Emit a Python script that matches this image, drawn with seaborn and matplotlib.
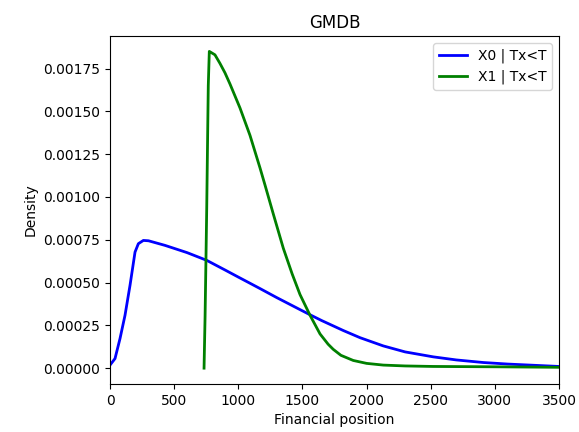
import matplotlib
matplotlib.use("Agg")
import matplotlib.pyplot as plt
import seaborn as sns
import pandas as pd

# Blue series: X0 | Tx<T  (density in units of 1e-4)
x0_pos = [0, 39, 78, 117, 156, 195, 221, 260, 300, 429, 600, 753, 900, 1000, 1091,
          1169, 1300, 1481, 1559, 1650, 1818, 1949, 2130, 2300, 2520, 2700, 2910,
          3100, 3299, 3500]
x0_dens = [0.18, 0.56, 1.73, 3.09, 4.84, 6.78, 7.27, 7.46, 7.44, 7.17, 6.75, 6.3, 5.72,
           5.32, 4.96, 4.65, 4.12, 3.42, 3.12, 2.78, 2.2, 1.78, 1.3, 0.95, 0.66, 0.48,
           0.33, 0.24, 0.17, 0.1]

# Green series: X1 | Tx<T  (density in units of 1e-4)
x1_pos = [733, 741, 748, 754, 760, 766, 774, 818, 857, 896, 935, 1013, 1091, 1169,
          1208, 1273, 1312, 1351, 1420, 1481, 1559, 1637, 1700, 1740, 1800, 1896,
          2000, 2130, 2300, 2517, 3000, 3500]
x1_dens = [0.0, 3.0, 6.4, 9.4, 13.0, 16.5, 18.5, 18.3, 17.8, 17.25, 16.6, 15.2, 13.6,
           11.7, 10.7, 9.0, 8.0, 7.0, 5.5, 4.3, 3.09, 2.0, 1.4, 1.1, 0.75, 0.45,
           0.28, 0.18, 0.13, 0.1, 0.08, 0.05]

labels = ["X0 | Tx<T", "X1 | Tx<T"]
colors = ["blue", "green"]
yticks = [0, 0.00025, 0.0005, 0.00075, 0.001, 0.00125, 0.0015, 0.00175]

df0 = pd.DataFrame({"x": x0_pos, "y": [v * 1e-4 for v in x0_dens]})
df1 = pd.DataFrame({"x": x1_pos, "y": [v * 1e-4 for v in x1_dens]})

fig, ax = plt.subplots(figsize=(5.79, 4.32), dpi=100)
fig.subplots_adjust(left=0.19, right=0.9655, top=0.9167, bottom=0.1111)

sns.lineplot(data=df0, x="x", y="y", ax=ax, color=colors[0], label=labels[0],
             linewidth=2, errorbar=None)
sns.lineplot(data=df1, x="x", y="y", ax=ax, color=colors[1], label=labels[1],
             linewidth=2, errorbar=None, sort=False)

ax.set_xlim(0, 3500)
ax.set_ylim(-0.0000925, 0.00194)
ax.set_title("GMDB")
ax.set_xlabel("Financial position")
ax.set_ylabel("Density")
ax.set_yticks(yticks)
ax.yaxis.set_major_formatter(matplotlib.ticker.FormatStrFormatter("%.5f"))
ax.legend(loc="upper right")

fig.savefig("out.png", dpi=100)
